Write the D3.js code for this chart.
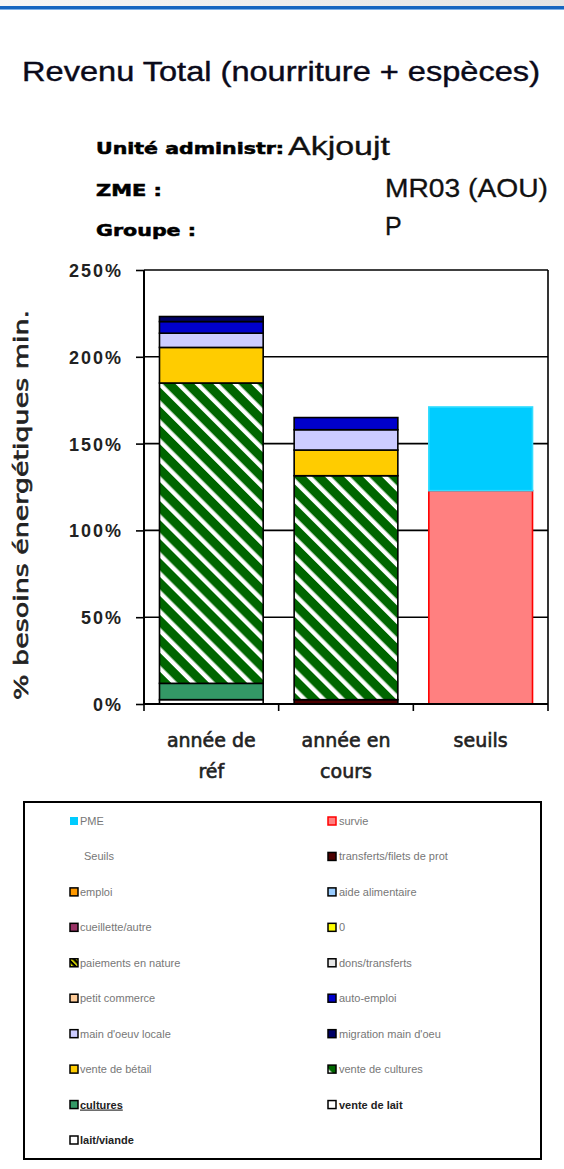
<!DOCTYPE html>
<html>
<head>
<meta charset="utf-8">
<script src="https://cdnjs.cloudflare.com/ajax/libs/d3/7.8.5/d3.min.js"></script>
<style>
  body { margin: 0; background: #fff; }
  svg { display: block; }
</style>
</head>
<body>
<script>
// Categories (x axis)
var categories = ["année de réf", "année en cours", "seuils"];
var categoryLines = [["année de", "réf"], ["année en", "cours"], ["seuils"]];

// Stacked series, bottom to top (fraction of min. energy needs)
var seriesNames = ["lait/viande", "transferts/filets de prot", "cultures", "vente de cultures",
  "vente de bétail", "main d'oeuv locale", "auto-emploi", "migration main d'oeu", "survie", "PME"];
var laitViande   = [0.025, 0, 0];
var transferts   = [0, 0.025, 0];
var cultures     = [0.094, 0, 0];
var venteCult    = [1.73, 1.29, 0];
var venteBetail  = [0.205, 0.148, 0];
var mainOeuvre   = [0.082, 0.117, 0];
var autoEmploi   = [0.067, 0.07, 0];
var migration    = [0.029, 0, 0];
var survie       = [0, 0, 1.229];
var pme          = [0, 0, 0.482];

// Y ticks
var yTicks = [0, 0.5, 1, 1.5, 2, 2.5];

// Legend columns
var legendLeft = ["PME", "Seuils", "emploi", "cueillette/autre", "paiements en nature",
  "petit commerce", "main d'oeuv locale", "vente de bétail", "cultures", "lait/viande"];
var legendRight = ["survie", "transferts/filets de prot", "aide alimentaire", "0",
  "dons/transferts", "auto-emploi", "migration main d'oeu", "vente de cultures", "vente de lait"];

var values = [laitViande, transferts, cultures, venteCult, venteBetail, mainOeuvre,
  autoEmploi, migration, survie, pme];

var fills = {
  "lait/viande": "#ffffff",
  "transferts/filets de prot": "#4d0000",
  "cultures": "#339966",
  "vente de cultures": "url(#hatch)",
  "vente de bétail": "#ffcc00",
  "main d'oeuv locale": "#ccccff",
  "auto-emploi": "#0000cc",
  "migration main d'oeu": "#000066",
  "survie": "#ff8080",
  "PME": "#00ccff",
  "emploi": "#ff9900",
  "cueillette/autre": "#993366",
  "paiements en nature": "url(#hatchY)",
  "petit commerce": "#ffcc99",
  "aide alimentaire": "#99ccff",
  "0": "#ffff00",
  "dons/transferts": "#e6e6e6",
  "vente de lait": "#ffffff"
};
var strokes = { "survie": "#ff0000", "PME": "#33ddff" };

var svgWidth = 564, svgHeight = 1169;
var svg = d3.select("body").append("svg")
  .attr("width", svgWidth)
  .attr("height", svgHeight);

var defs = svg.append("defs");
var hatch = defs.append("pattern")
  .attr("id", "hatch")
  .attr("patternUnits", "userSpaceOnUse")
  .attr("width", 13.4).attr("height", 13.4)
  .attr("patternTransform", "rotate(-45)");
hatch.append("rect").attr("width", 13.4).attr("height", 13.4).attr("fill", "#006600");
hatch.append("rect").attr("width", 4.4).attr("height", 13.4).attr("fill", "#ffffff");

var hatchY = defs.append("pattern")
  .attr("id", "hatchY")
  .attr("patternUnits", "userSpaceOnUse")
  .attr("width", 4).attr("height", 4)
  .attr("patternTransform", "rotate(-45)");
hatchY.append("rect").attr("width", 4).attr("height", 4).attr("fill", "#000");
hatchY.append("rect").attr("width", 1.5).attr("height", 4).attr("fill", "#ffff00");

// window chrome at the top
var chrome = defs.append("linearGradient").attr("id", "chrome").attr("x1", 0).attr("x2", 1);
chrome.append("stop").attr("offset", 0).attr("stop-color", "#f6f6f6");
chrome.append("stop").attr("offset", 1).attr("stop-color", "#e4e4e4");
svg.append("rect").attr("x", 0).attr("y", 0).attr("width", svgWidth).attr("height", 6).attr("fill", "url(#chrome)");
svg.append("rect").attr("x", 0).attr("y", 6).attr("width", svgWidth).attr("height", 3).attr("fill", "#1565c0");
svg.append("rect").attr("x", 0).attr("y", 9).attr("width", svgWidth).attr("height", 1).attr("fill", "#7fb0e6");

function fit(sel, w) {
  sel.attr("textLength", w).attr("lengthAdjust", "spacingAndGlyphs");
}

// Title
svg.append("text")
  .attr("x", 22).attr("y", 81)
  .attr("font-family", "'Liberation Sans', Arial, sans-serif")
  .attr("font-size", 27)
  .attr("fill", "#0a0a1a")
  .attr("stroke", "#0a0a1a").attr("stroke-width", 0.4)
  .text("Revenu Total (nourriture + espèces)")
  .call(fit, 518);

// Header block
var lab = svg.append("g")
  .attr("font-family", "'DejaVu Sans', sans-serif")
  .attr("font-weight", "bold")
  .attr("font-size", 15)
  .attr("fill", "#000")
  .attr("stroke", "#000").attr("stroke-width", 0.5);
lab.append("text").attr("x", 96).attr("y", 154).text("Unité administr:").call(fit, 188);
lab.append("text").attr("x", 96).attr("y", 196).text("ZME :").call(fit, 66);
lab.append("text").attr("x", 96).attr("y", 236).text("Groupe :").call(fit, 100);

var val = svg.append("g")
  .attr("font-family", "'Liberation Sans', Arial, sans-serif")
  .attr("font-size", 25)
  .attr("fill", "#111")
  .attr("stroke", "#111").attr("stroke-width", 0.3);
val.append("text").attr("x", 288).attr("y", 155).text("Akjoujt").call(fit, 102);
val.append("text").attr("x", 385).attr("y", 197).text("MR03 (AOU)").call(fit, 163);
val.append("text").attr("x", 385).attr("y", 235).text("P");

// Chart area
var plot = { left: 144, right: 548, top: 270, bottom: 704 };

var x = d3.scaleBand()
  .domain(categories)
  .range([plot.left, plot.right])
  .paddingInner(0.23)
  .paddingOuter(0.115);

var y = d3.scaleLinear()
  .domain([0, 2.5])
  .range([plot.bottom, plot.top]);

// gridlines
svg.append("g")
  .selectAll("line")
  .data(yTicks.slice(1))
  .enter()
  .append("line")
  .attr("x1", plot.left).attr("x2", plot.right)
  .attr("y1", d => y(d)).attr("y2", d => y(d))
  .attr("stroke", "#000").attr("stroke-width", 1.6);

// right border
svg.append("line")
  .attr("x1", plot.right).attr("x2", plot.right)
  .attr("y1", plot.top).attr("y2", plot.bottom)
  .attr("stroke", "#000").attr("stroke-width", 1.6);

// stacked bars
var table = categories.map(function(c, i) {
  var row = { cat: c };
  seriesNames.forEach(function(s, j) { row[s] = values[j][i]; });
  return row;
});
var stacked = d3.stack().keys(seriesNames)(table);

svg.append("g")
  .selectAll("g")
  .data(stacked)
  .enter()
  .append("g")
  .attr("fill", d => fills[d.key])
  .attr("stroke", d => strokes[d.key] || "#000")
  .attr("stroke-width", 1.6)
  .selectAll("rect")
  .data(d => d.filter(p => p[1] - p[0] > 0))
  .enter()
  .append("rect")
  .attr("x", d => x(d.data.cat))
  .attr("width", x.bandwidth())
  .attr("y", d => y(d[1]))
  .attr("height", d => y(d[0]) - y(d[1]));

// y axis
var leftAxis = d3.axisLeft(y)
  .tickValues(yTicks)
  .tickFormat(d3.format(".0%"))
  .tickSize(8)
  .tickPadding(13);

var yAxisG = svg.append("g")
  .attr("transform", `translate(${plot.left},0)`)
  .call(leftAxis);
yAxisG.select(".domain").attr("stroke-width", 2).attr("d", `M-0,${plot.top}V${plot.bottom}`);
yAxisG.selectAll(".tick line").attr("stroke-width", 1.6);
yAxisG.selectAll(".tick text")
  .attr("font-family", "'Liberation Sans', Arial, sans-serif")
  .attr("font-weight", "bold")
  .attr("font-size", 18)
  .attr("fill", "#222")
  .attr("letter-spacing", 2)
  .attr("dy", "0.36em");

// x axis: ticks at category boundaries
var xAxisG = svg.append("g");
xAxisG.append("line")
  .attr("x1", plot.left).attr("x2", plot.right)
  .attr("y1", plot.bottom).attr("y2", plot.bottom)
  .attr("stroke", "#000").attr("stroke-width", 2);
var bounds = categories.map(c => x(c) - x.step() * x.paddingInner() / 2);
bounds.push(plot.right);
xAxisG.selectAll(".xt")
  .data(bounds)
  .enter()
  .append("line")
  .attr("x1", d => d).attr("x2", d => d)
  .attr("y1", plot.bottom).attr("y2", plot.bottom + 7)
  .attr("stroke", "#000").attr("stroke-width", 1.6);

var catText = xAxisG.selectAll(".cat")
  .data(categories)
  .enter()
  .append("text")
  .attr("x", d => x(d) + x.bandwidth() / 2)
  .attr("y", 747)
  .attr("text-anchor", "middle")
  .attr("font-family", "'DejaVu Sans', sans-serif")
  .attr("font-size", 19)
  .attr("fill", "#222")
  .attr("stroke", "#222").attr("stroke-width", 0.6);
catText.each(function(d, i) {
  var t = d3.select(this);
  categoryLines[i].forEach(function(line, k) {
    t.append("tspan")
      .attr("x", x(d) + x.bandwidth() / 2)
      .attr("dy", k === 0 ? 0 : 31)
      .text(line);
  });
});

// y axis title
svg.append("text")
  .attr("transform", "translate(28,505) rotate(-90)")
  .attr("text-anchor", "middle")
  .attr("font-family", "'DejaVu Sans', sans-serif")
  .attr("font-size", 19)
  .attr("fill", "#222")
  .attr("stroke", "#222").attr("stroke-width", 0.6)
  .text("% besoins énergétiques min.")
  .call(fit, 390);

// Legend
var legend = svg.append("g");
legend.append("rect")
  .attr("x", 24).attr("y", 802)
  .attr("width", 517).attr("height", 357)
  .attr("fill", "#fff")
  .attr("stroke", "#000").attr("stroke-width", 2);

var rowY = d3.scaleLinear().domain([0, 9]).range([821, 1140]);

function legendColumn(items, sx, tx) {
  var g = legend.append("g");
  var rows = g.selectAll("g")
    .data(items)
    .enter()
    .append("g")
    .attr("transform", (d, i) => `translate(0,${rowY(i)})`);
  rows.filter(d => d !== "Seuils")
    .append("rect")
    .attr("x", sx).attr("y", -4)
    .attr("width", 8).attr("height", 8)
    .attr("fill", d => fills[d])
    .attr("stroke", d => d === "PME" ? "none" : (d === "survie" ? "#ff0000" : "#000"))
    .attr("stroke-width", 1.5);
  rows.append("text")
    .attr("x", d => d === "Seuils" ? tx + 4 : tx)
    .attr("y", 4)
    .attr("font-family", "'Liberation Sans', Arial, sans-serif")
    .attr("font-size", 11)
    .attr("font-weight", d => (d === "cultures" || d === "lait/viande" || d === "vente de lait") ? "bold" : "normal")
    .attr("text-decoration", d => d === "cultures" ? "underline" : null)
    .attr("fill", d => (d === "cultures" || d === "lait/viande" || d === "vente de lait") ? "#222" : "#777")
    .text(d => d);
}
legendColumn(legendLeft, 70, 80);
legendColumn(legendRight, 328, 339);
</script>
</body>
</html>
